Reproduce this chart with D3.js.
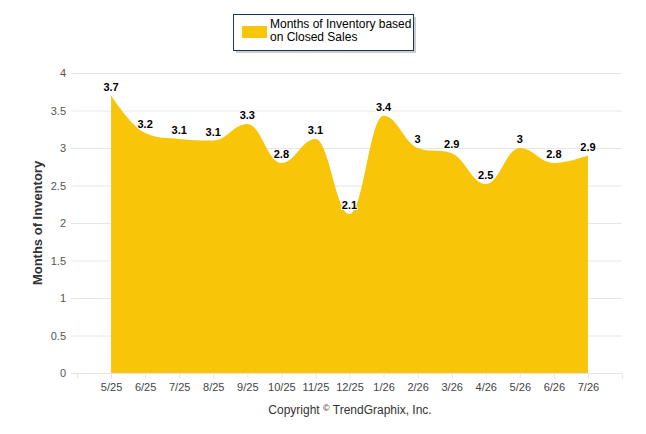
<!DOCTYPE html>
<html>
<head>
<meta charset="utf-8">
<script src="https://cdn.jsdelivr.net/npm/d3@7"></script>
<style>
  body { margin: 0; background: #fff; }
  #chart { width: 646px; height: 434px; }
  text { font-family: Tahoma, "Liberation Sans", Arial, sans-serif; }
</style>
</head>
<body>
<div id="chart"></div>
<script>
// months and values
const months = ['5/25','6/25','7/25','8/25','9/25','10/25','11/25','12/25','1/26','2/26','3/26','4/26','5/26','6/26','7/26'];
const inventory = [3.7, 3.2, 3.12, 3.1, 3.32, 2.8, 3.12, 2.12, 3.43, 3.0, 2.93, 2.52, 3.0, 2.8, 2.9];
const labels = ['3.7','3.2','3.1','3.1','3.3','2.8','3.1','2.1','3.4','3','2.9','2.5','3','2.8','2.9'];
const yTicks = [0, 0.5, 1, 1.5, 2, 2.5, 3, 3.5, 4];

(function(){
  const width = 646, height = 434;
  const FILL = '#f8c508';
  const FONT = 'Tahoma, "Liberation Sans", Arial, sans-serif';
  const svg = d3.select('#chart').append('svg')
    .attr('width', width).attr('height', height)
    .style('display','block');

  const plotL = 71, plotR = 622, plotT = 73, plotB = 373;
  // one empty slot either side of the categories
  const x = d3.scaleLinear().domain([-1, months.length]).range([77, 622]);
  const y = d3.scaleLinear().domain([0, 4]).range([plotB, plotT]);

  // grid
  svg.append('g').selectAll('line')
    .data(yTicks.filter(d => d > 0))
    .join('line')
    .attr('x1', plotL).attr('x2', plotR)
    .attr('y1', d => y(d) + 0.5).attr('y2', d => y(d) + 0.5)
    .attr('stroke', '#e6e6e6');

  // y labels
  svg.append('g').selectAll('text')
    .data(yTicks)
    .join('text')
    .attr('x', 66).attr('y', d => y(d) + 4)
    .attr('text-anchor', 'end')
    .attr('fill', '#555')
    .style('font-size', '11px')
    .text(d => d);

  // spline like the original chart lib (smoothing 1.5, no false extremes)
  function splinePath(vals){
    const pts = vals.map((v, i) => [x(i), y(v)]);
    const sm = 1.5, den = sm + 1;
    const ctrl = pts.map((p, i) => {
      const a = pts[i-1], b = pts[i+1];
      if (!a || !b) return null;
      let lx = (sm*p[0] + a[0]) / den, ly = (sm*p[1] + a[1]) / den;
      let rx = (sm*p[0] + b[0]) / den, ry = (sm*p[1] + b[1]) / den;
      const corr = ((ry - ly) * (rx - p[0])) / (rx - lx) + p[1] - ry;
      ly += corr; ry += corr;
      if (ly > a[1] && ly > p[1]) { ly = Math.max(a[1], p[1]); ry = 2*p[1] - ly; }
      else if (ly < a[1] && ly < p[1]) { ly = Math.min(a[1], p[1]); ry = 2*p[1] - ly; }
      if (ry > b[1] && ry > p[1]) { ry = Math.max(b[1], p[1]); ly = 2*p[1] - ry; }
      else if (ry < b[1] && ry < p[1]) { ry = Math.min(b[1], p[1]); ly = 2*p[1] - ry; }
      return {lx, ly, rx, ry};
    });
    const path = d3.path();
    path.moveTo(pts[0][0], y(0));
    path.lineTo(pts[0][0], pts[0][1]);
    for (let i = 1; i < pts.length; i++) {
      const prev = ctrl[i-1], cur = ctrl[i];
      path.bezierCurveTo(
        prev ? prev.rx : pts[i-1][0], prev ? prev.ry : pts[i-1][1],
        cur ? cur.lx : pts[i][0], cur ? cur.ly : pts[i][1],
        pts[i][0], pts[i][1]);
    }
    path.lineTo(pts[pts.length-1][0], y(0));
    path.closePath();
    return path.toString();
  }

  svg.append('path')
    .attr('d', splinePath(inventory))
    .attr('fill', FILL);

  // bottom axis
  const xAxis = d3.axisBottom(x)
    .tickValues(d3.range(-1, months.length + 1))
    .tickSize(5)
    .tickFormat(i => months[i] || '');
  const ax = svg.append('g')
    .attr('transform', `translate(0,${plotB + 0.5})`)
    .call(xAxis);
  ax.select('.domain').attr('stroke', '#e6e6e6').attr('d', `M${plotL},0H${plotR}`);
  ax.selectAll('.tick line').attr('stroke', '#e6e6e6');
  ax.selectAll('.tick text')
    .attr('fill', '#444')
    .attr('dy', '0.85em')
    .style('font-size', '11px')
    .style('font-family', FONT);

  // data labels
  svg.append('g').selectAll('text')
    .data(inventory)
    .join('text')
    .attr('x', (d, i) => x(i))
    .attr('y', d => y(d) - 5)
    .attr('text-anchor', 'middle')
    .attr('fill', '#000')
    .attr('stroke', '#fff')
    .attr('stroke-width', 2)
    .attr('paint-order', 'stroke')
    .style('font-size', '11px')
    .style('font-weight', 'bold')
    .text((d, i) => labels[i]);

  // y title
  svg.append('text')
    .attr('transform', `translate(42,${(plotT + plotB) / 2}) rotate(-90)`)
    .attr('text-anchor', 'middle')
    .attr('fill', '#333')
    .style('font-size', '13px')
    .style('font-weight', 'bold')
    .text('Months of Inventory');

  // legend
  const lg = svg.append('g');
  lg.append('rect').attr('x', 236).attr('y', 17).attr('width', 180).attr('height', 36)
    .attr('fill', '#999').attr('opacity', 0.5);
  lg.append('rect').attr('x', 233.5).attr('y', 14.5).attr('width', 180).attr('height', 36)
    .attr('fill', '#fff').attr('stroke', '#1c3557').attr('stroke-width', 1);
  lg.append('rect').attr('x', 242).attr('y', 26).attr('width', 25).attr('height', 12)
    .attr('fill', FILL);
  lg.append('text').attr('x', 270).attr('y', 28)
    .attr('fill', '#000').style('font-size', '12px')
    .text('Months of Inventory based');
  lg.append('text').attr('x', 270).attr('y', 41)
    .attr('fill', '#000').style('font-size', '12px')
    .text('on Closed Sales');

  // credit
  const cr = svg.append('text')
    .attr('x', 350).attr('y', 414)
    .attr('text-anchor', 'middle')
    .attr('fill', '#333')
    .style('font-size', '12px');
  cr.append('tspan').text('Copyright ');
  cr.append('tspan').attr('dy', -3).style('font-size', '9px').text('©');
  cr.append('tspan').attr('dy', 3).text(' TrendGraphix, Inc.');
})();
</script>
</body>
</html>
